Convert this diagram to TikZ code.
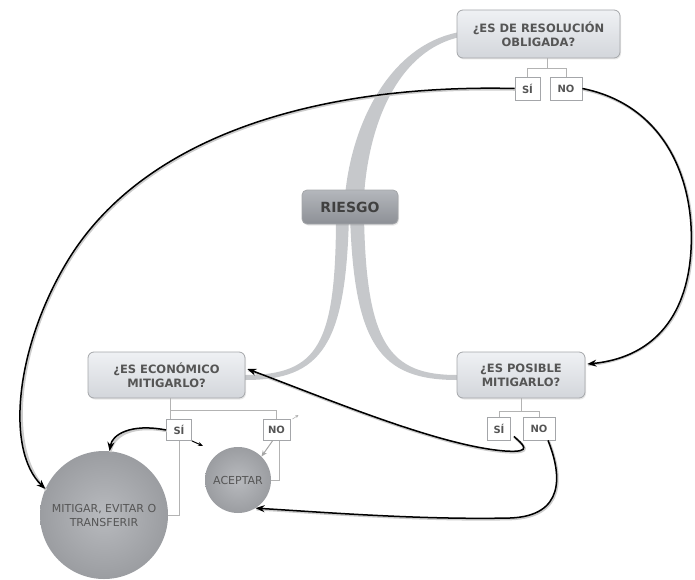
\documentclass[tikz,border=0pt]{standalone}
\usepackage{fontspec}
\setmainfont{DejaVu Sans}
\usetikzlibrary{arrows.meta,shadows,calc}

\definecolor{ramagris}{HTML}{C6C8CB}
\definecolor{cajaarriba}{HTML}{EFF1F4}
\definecolor{cajaabajo}{HTML}{D3D6DB}
\definecolor{cajaborde}{HTML}{A4A6A9}
\definecolor{textogris}{HTML}{555555}
\definecolor{riesgoarriba}{HTML}{B4B7BC}
\definecolor{riesgoabajo}{HTML}{8D9096}
\definecolor{circdentro}{HTML}{B8BABE}
\definecolor{circfuera}{HTML}{9B9DA1}
\definecolor{lineagris}{HTML}{B3B3B3}

\begin{document}
\begin{tikzpicture}[x=1pt, y=-1pt,
  pregunta/.style={draw=cajaborde, line width=0.8pt, rounded corners=6pt,
    top color=cajaarriba, bottom color=cajaabajo,
    drop shadow={opacity=0.18, shadow xshift=1pt, shadow yshift=-1.5pt},
    align=center, text=textogris, inner sep=0pt,
    font=\bfseries\fontsize{11.5}{14}\selectfont},
  opcion/.style={draw=cajaborde, line width=0.8pt, fill=white, text=textogris,
    inner sep=0pt, font=\bfseries\fontsize{10}{12}\selectfont},
  accion/.style={circle, inner color=circdentro, outer color=circfuera,
    align=center, text=textogris, inner sep=0pt,
    font=\fontsize{11}{14}\selectfont},
  arbol/.style={draw=lineagris, line width=1pt},
  flecha/.style={draw=black, line width=1.5pt, -{Stealth[length=9pt, width=7pt]},
    preaction={draw=black!20, line width=2.6pt, -,
      transform canvas={shift={(0.8pt,-1pt)}}}},
  flechita/.style={draw=black, line width=1pt, -{Stealth[length=5pt, width=4pt]}}]

  \useasboundingbox (0,0) rectangle (695,580);

  \fill[ramagris] (345,196) .. controls (352,120) and (392,44) .. (460,32)
    -- (460,37) .. controls (400,50) and (369,120) .. (364,196) -- cycle;
  \fill[ramagris] (336,215) .. controls (336,345) and (318,375) .. (245,375)
    -- (245,380) .. controls (322,380) and (346,345) .. (349,215) -- cycle;
  \fill[ramagris] (350,215) .. controls (354,345) and (380,380) .. (457,380)
    -- (457,375) .. controls (390,375) and (366,345) .. (364,215) -- cycle;

  \node[pregunta, minimum width=163pt, minimum height=48pt] (qres) at (538.5,34)
    {¿ES DE RESOLUCIÓN\\OBLIGADA?};
  \node[pregunta, minimum width=96pt, minimum height=34pt, rounded corners=5pt,
    top color=riesgoarriba, bottom color=riesgoabajo, text=black!75,
    font=\bfseries\fontsize{14}{16}\selectfont] (riesgo) at (350,207) {RIESGO};
  \node[pregunta, minimum width=157pt, minimum height=46pt] (qeco) at (166.5,375)
    {¿ES ECONÓMICO\\MITIGARLO?};
  \node[pregunta, minimum width=128pt, minimum height=46pt] (qpos) at (521,375)
    {¿ES POSIBLE\\MITIGARLO?};

  \node[opcion, minimum width=25pt, minimum height=23pt] (siA) at (527.5,88.5) {SÍ};
  \node[opcion, minimum width=32pt, minimum height=23pt] (noA) at (566,88.5) {NO};
  \node[opcion, minimum width=25pt, minimum height=21pt] (siB) at (179,430) {SÍ};
  \node[opcion, minimum width=27pt, minimum height=21pt] (noB) at (276.5,430) {NO};
  \node[opcion, minimum width=23pt, minimum height=23pt] (siC) at (499,428.5) {SÍ};
  \node[opcion, minimum width=32pt, minimum height=23pt] (noC) at (539,428.5) {NO};

  \node[accion, minimum size=128pt] (mitigar) at (104,515)
    {MITIGAR, EVITAR O\\TRANSFERIR};
  \node[accion, minimum size=66pt] (aceptar) at (238,480) {ACEPTAR};

  \coordinate (jA) at (547,69);
  \coordinate (jB) at (170,410);
  \coordinate (jC) at (521,411);
  \draw[arbol] (qres.south -| jA) -- (jA) -| (siA.north);
  \draw[arbol] (jA) -| (noA.north);
  \draw[arbol] (qeco.south -| jB) -- (jB) -| (noB.north);
  \draw[arbol] (jB) -- (jB |- siB.north);
  \draw[arbol] (qpos.south -| jC) -- (jC) -| (siC.north);
  \draw[arbol] (jC) -| (noC.north);
  \draw[arbol] (siB.south) |- (mitigar.east);
  \draw[arbol] ($(noB.south)+(3,0)$) |- (aceptar.east);

  \draw[flecha] (siA.west) .. controls (330,84) and (150,130) .. (70,257)
    .. controls (15,345) and (5,450) .. (mitigar.156);
  \draw[flecha] (noA.east) .. controls (665,105) and (695,180) .. (691,250)
    .. controls (687,320) and (650,358) .. ($(qpos.east)+(2,-11)$);
  \draw[flecha] ($(siC.south east)+(3,-4)$) .. controls (522,444) and (535,453) .. (505,451)
    .. controls (440,446) and (330,400) .. ($(qeco.east)+(2,-6)$);
  \draw[flecha] ($(noC.south)+(9,0)$) .. controls (562,475) and (565,516) .. (510,518)
    .. controls (420,520) and (320,512) .. (aceptar.-58);
  \draw[flecha] (siB.west) .. controls (130,423) and (112,435) .. (mitigar.85);
  \draw[flechita] (siB.south east) -- ++(11,5);
  \draw[draw=gray!70, line width=1pt, -{Stealth[length=6pt, width=5pt]}]
    ($(noB.south)+(-4,0)$) -- (aceptar.45);
  \draw[draw=gray!60, line width=0.6pt, -{Stealth[length=3pt, width=3pt]}]
    ($(noB.north east)+(2,0)$) -- ++(6,-4);
\end{tikzpicture}
\end{document}
